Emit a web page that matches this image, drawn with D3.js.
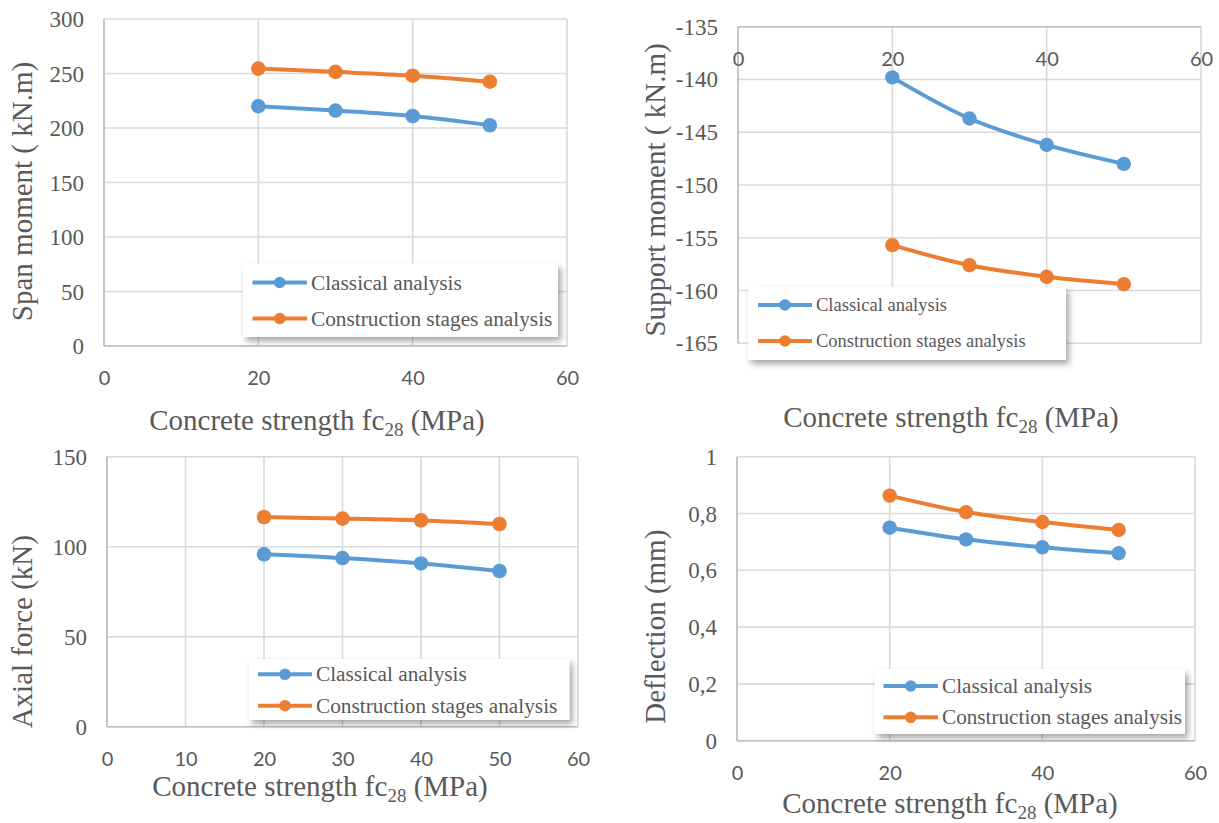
<!DOCTYPE html>
<html>
<head>
<meta charset="utf-8">
<script src="https://cdn.jsdelivr.net/npm/d3@7"></script>
<style>
  html, body { margin: 0; padding: 0; background: #fff; }
  svg { display: block; }
</style>
</head>
<body>
<svg id="chart" width="1219" height="823"></svg>
<script>
// ---------------- DATA ----------------
const xValues = [20, 30, 40, 50];
const seriesNames = ["Classical analysis", "Construction stages analysis"];

const spanClassical = [220, 216, 211, 202.5];
const spanConstruction = [254.5, 251.5, 248, 242.5];

const supportClassical = [-139.8, -143.7, -146.2, -148.0];
const supportConstruction = [-155.7, -157.6, -158.7, -159.4];

const axialClassical = [95.8, 93.7, 90.7, 86.5];
const axialConstruction = [116.5, 115.6, 114.6, 112.6];

const deflClassical = [0.75, 0.709, 0.681, 0.66];
const deflConstruction = [0.863, 0.805, 0.77, 0.742];

const xTicksWide = [0, 20, 40, 60];
const xTicksFine = [0, 10, 20, 30, 40, 50, 60];
const spanTicks = [0, 50, 100, 150, 200, 250, 300];
const supportTicks = [-165, -160, -155, -150, -145, -140, -135];
const axialTicks = [0, 50, 100, 150];
const deflTicks = [0, 0.2, 0.4, 0.6, 0.8, 1];

const yTitles = ["Span moment ( kN.m)", "Support moment ( kN.m)", "Axial force (kN)", "Deflection (mm)"];
const xTitleMain = "Concrete strength fc";
const xTitleSub = "28";
const xTitleEnd = " (MPa)";

// ---------------- STYLE / LAYOUT ----------------
const COLORS = ["#5b9bd5", "#ed7d31"];
const TEXT = "#595959";
const GRID = "#d9d9d9";
const AXIS = "#bfbfbf";
const SERIF = "'Liberation Serif', 'Times New Roman', serif";
const SANS = "Lato, 'Liberation Sans', sans-serif";

const fmtPlain = d => String(d);
const fmtComma = d => String(d).replace(".", ",");

const panels = [
  { x0: 104, x1: 567, yTop: 19, yBot: 346, xTicks: xTicksWide, yTicks: spanTicks,
    yDomain: [0, 300], data: [spanClassical, spanConstruction], fmt: fmtPlain, xAxisAt: 0,
    yTitle: yTitles[0], yTitlePos: [32, 191.5], xTitlePos: [317, 430],
    legend: { x: 243, y: 263.5, w: 315, h: 73.5, rows: [282.5, 318.5], lx: [252.5, 307], tx: 311, fs: 21.3, r: 5.8 },
    r: 7.3 },
  { x0: 738, x1: 1201, yTop: 26.7, yBot: 343.3, xTicks: xTicksWide, yTicks: supportTicks,
    yDomain: [-165, -135], data: [supportClassical, supportConstruction], fmt: fmtPlain, xAxisAt: -135,
    yTitle: yTitles[1], yTitlePos: [665, 190], xTitlePos: [951, 427],
    legend: { x: 748, y: 286.7, w: 318, h: 73.3, rows: [305, 341], lx: [758, 812], tx: 816, fs: 18.5, r: 5.8 },
    r: 7.2 },
  { x0: 107, x1: 578, yTop: 456.7, yBot: 726.7, xTicks: xTicksFine, yTicks: axialTicks,
    yDomain: [0, 150], data: [axialClassical, axialConstruction], fmt: fmtPlain, xAxisAt: 0,
    yTitle: yTitles[2], yTitlePos: [32, 631.7], xTitlePos: [320, 796],
    legend: { x: 249, y: 659, w: 320.5, h: 61, rows: [674.3, 705.7], lx: [258, 312], tx: 316, fs: 21.3, r: 5.8 },
    r: 7.3 },
  { x0: 737, x1: 1195, yTop: 456.7, yBot: 740.7, xTicks: xTicksWide, yTicks: deflTicks,
    yDomain: [0, 1], data: [deflClassical, deflConstruction], fmt: fmtComma, xAxisAt: 0,
    yTitle: yTitles[3], yTitlePos: [665, 626.7], xTitlePos: [950, 813.3],
    legend: { x: 874.7, y: 669.3, w: 310.3, h: 64.7, rows: [686, 717.3], lx: [883.5, 938], tx: 942, fs: 21.2, r: 5.8 },
    r: 7.2 }
];

const svg = d3.select("#chart");
svg.append("rect").attr("width", 1219).attr("height", 823).attr("fill", "#fff");

const defs = svg.append("defs");
const flt = defs.append("filter").attr("id", "shadow")
  .attr("x", "-10%").attr("y", "-20%").attr("width", "130%").attr("height", "160%");
flt.append("feDropShadow").attr("dx", 3).attr("dy", 4).attr("stdDeviation", 3)
  .attr("flood-color", "#000").attr("flood-opacity", 0.35);

panels.forEach(p => {
  const x = d3.scaleLinear().domain([0, 60]).range([p.x0, p.x1]);
  const y = d3.scaleLinear().domain(p.yDomain).range([p.yBot, p.yTop]);
  const g = svg.append("g");

  // gridlines
  g.append("g").selectAll("line").data(p.yTicks).join("line")
    .attr("x1", p.x0).attr("x2", p.x1).attr("y1", d => y(d)).attr("y2", d => y(d))
    .attr("stroke", GRID).attr("stroke-width", 1.6);
  g.append("g").selectAll("line").data(p.xTicks).join("line")
    .attr("x1", d => x(d)).attr("x2", d => x(d)).attr("y1", p.yTop).attr("y2", p.yBot)
    .attr("stroke", GRID).attr("stroke-width", 1.6);

  // axis lines
  const yAxisLineY = y(p.xAxisAt);
  g.append("line").attr("x1", p.x0).attr("x2", p.x1).attr("y1", yAxisLineY).attr("y2", yAxisLineY)
    .attr("stroke", AXIS).attr("stroke-width", 1.6);
  g.append("line").attr("x1", x(0)).attr("x2", x(0)).attr("y1", p.yTop).attr("y2", p.yBot)
    .attr("stroke", AXIS).attr("stroke-width", 1.6);

  // x axis (labels)
  const xa = g.append("g").attr("transform", `translate(0,${yAxisLineY})`)
    .call(d3.axisBottom(x).tickValues(p.xTicks).tickSize(0).tickFormat(fmtPlain));
  xa.select(".domain").remove();
  xa.selectAll("text")
    .attr("y", 31).attr("dy", null)
    .attr("dominant-baseline", "central")
    .attr("font-family", SANS).attr("font-size", 20).attr("fill", TEXT);

  // y axis (labels)
  const ya = g.append("g").attr("transform", `translate(${x(0)},0)`)
    .call(d3.axisLeft(y).tickValues(p.yTicks).tickSize(0).tickFormat(p.fmt));
  ya.select(".domain").remove();
  ya.selectAll("text")
    .attr("x", -20).attr("dy", null)
    .attr("dominant-baseline", "central")
    .attr("text-anchor", "end")
    .attr("font-family", SERIF).attr("font-size", 23).attr("fill", TEXT);

  // series
  const line = d3.line().x(d => x(d[0])).y(d => y(d[1])).curve(d3.curveCatmullRom.alpha(0.5));
  p.data.forEach((vals, i) => {
    const pts = xValues.map((xv, j) => [xv, vals[j]]);
    g.append("path").datum(pts).attr("d", line)
      .attr("fill", "none").attr("stroke", COLORS[i]).attr("stroke-width", 4)
      .attr("stroke-linejoin", "round");
    g.append("g").selectAll("circle").data(pts).join("circle")
      .attr("cx", d => x(d[0])).attr("cy", d => y(d[1])).attr("r", p.r)
      .attr("fill", COLORS[i]);
  });

  // y title
  g.append("text")
    .attr("transform", `translate(${p.yTitlePos[0]},${p.yTitlePos[1]}) rotate(-90)`)
    .attr("text-anchor", "middle")
    .attr("font-family", SERIF).attr("font-size", 29).attr("fill", TEXT)
    .text(p.yTitle);

  // x title
  const xt = g.append("text")
    .attr("transform", `translate(${p.xTitlePos[0]},${p.xTitlePos[1]})`)
    .attr("text-anchor", "middle")
    .attr("font-family", SERIF).attr("font-size", 29).attr("fill", TEXT);
  xt.append("tspan").text(xTitleMain);
  xt.append("tspan").attr("font-size", 19).attr("dy", 6).text(xTitleSub);
  xt.append("tspan").attr("dy", -6).text(xTitleEnd);

  // legend
  const L = p.legend;
  const lg = g.append("g");
  lg.append("rect").attr("x", L.x).attr("y", L.y).attr("width", L.w).attr("height", L.h)
    .attr("fill", "#fff").attr("filter", "url(#shadow)");
  seriesNames.forEach((name, i) => {
    const ry = L.rows[i];
    lg.append("line").attr("x1", L.lx[0]).attr("x2", L.lx[1]).attr("y1", ry).attr("y2", ry)
      .attr("stroke", COLORS[i]).attr("stroke-width", 4);
    lg.append("circle").attr("cx", (L.lx[0] + L.lx[1]) / 2).attr("cy", ry).attr("r", L.r)
      .attr("fill", COLORS[i]);
    lg.append("text")
      .attr("x", L.tx).attr("y", ry)
      .attr("dominant-baseline", "central")
      .attr("font-family", SERIF).attr("font-size", L.fs).attr("fill", TEXT)
      .text(name);
  });
});
</script>
</body>
</html>
